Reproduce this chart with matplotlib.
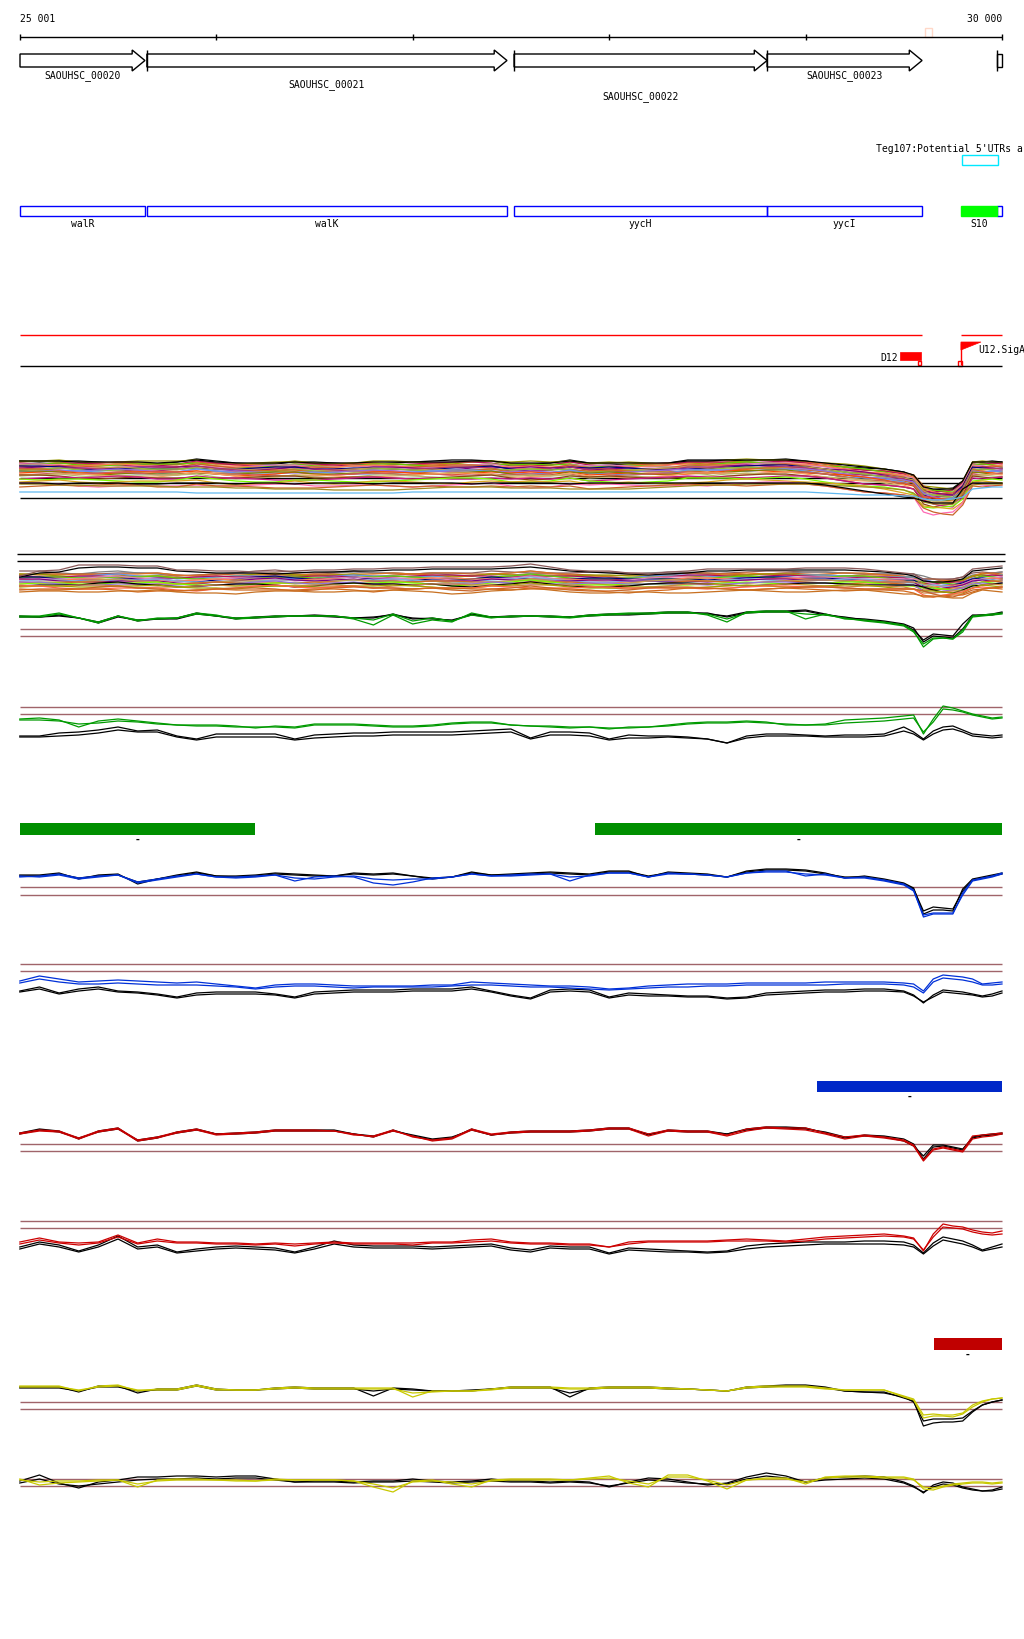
import numpy as np
import matplotlib
matplotlib.use("Agg")
import matplotlib.pyplot as plt
from matplotlib.patches import Polygon, Rectangle

plt.rcParams["font.family"] = ["DejaVu Sans Mono", "DejaVu Sans"]
plt.rcParams["font.size"] = 7

# ---- view / layout ----
W_PX, H_PX = 1024, 1640
VIEW_START, VIEW_END = 25001, 30000
BP_PER_PX = (VIEW_END - VIEW_START) / 982.0
X0 = VIEW_START - 20 * BP_PER_PX
X1 = X0 + W_PX * BP_PER_PX

BROWN = "#a0646a"
GREEN = "#009a00"
BLUE = "#0030d8"
RED = "#cc0000"
YELLOW = "#c8c800"

# ---- annotation data ----
scale_ticks = [25001, 26000, 27000, 28000, 29000, 30000]
scale_labels = ["25 001", "30 000"]

gene_ids = ["SAOUHSC_00020", "SAOUHSC_00021", "SAOUHSC_00022", "SAOUHSC_00023", "SAOUHSC_00024"]
gene_names = ["walR", "walK", "yycH", "yycI", "yycJ"]
gene_start = [24900, 25647, 27516, 28804, 29977]
gene_end = [25637, 27480, 28804, 29593, 30600]
gene_label_row = [76, 85, 97, 76, 76]

srna_name = "S10"
srna_start, srna_end = 29791, 29977
utr_label = "Teg107:Potential 5'UTRs a"
utr_start, utr_end = 29796, 29979

tu_segments = [(25001, 29593), (29791, 30000)]
d12_start, d12_end = 29481, 29588
u12_start, u12_end = 29791, 29893

green_bar_start = [25001, 27928]
green_bar_end = [26197, 30000]
blue_bar_start = [29058]
blue_bar_end = [30000]
red_bar_start = [29654]
red_bar_end = [30000]

# ---- probe positions ----
pos = np.r_[np.arange(25000, 29500, 100), np.arange(29500, 30001, 50)]

# ---- bundle tracks ----
bA_shift = [0,0,0,1,1,1,1,2,1,-1,1,2,2,2,1,2,2,2,1,1,1,1,1,0,0,2,2,2,0,2,2,2,2,2,0,0,-1,-1,-1,-1,0,2,4,6,8,11,14,26,28,28,28,20,1,1,1,1]
bA_offsets = [22,22,23,24,24,25,26,26,27,28,28,29,29,30,31,31,32,33,33,34,35,36,37,38,40,42,45,46]
bA_colors = ["#000000", "#999900", "#a0a000", "#e06030", "#b0105a", "#66cc00", "#e080c0", "#ff7f50",
             "#c86428", "#800080", "#000080", "#c0a050", "#b03070", "#88c040", "#d2691e", "#9370db",
             "#6495ed", "#ff4500", "#808000", "#cd5c5c", "#f4a460", "#bdb76b", "#8b4513", "#c71585",
             "#7cfc00", "#daa520", "#ff69b4", "#c86428"]
bA_refs = [39, 44, 59]
bA_blk_low = [44,44,45,44,44,44,45,45,44,44,44,45,44,44,45,44,44,44,45,44,44,44,44,45,44,44,44,44,45,44,44,44,44,44,44,44,44,44,44,44,44,46,49,52,55,58,59,62,64,64,64,50,44,44,44,44]
bA_lblue = [53,53,53,53,53,53,53,53,53,54,54,54,54,54,54,54,54,54,54,54,53,53,53,53,53,53,53,53,53,53,53,53,53,53,53,53,53,53,53,53,53,54,55,56,56,57,57,60,61,61,60,58,50,49,48,48]
bA_olive = [45,45,46,46,47,47,47,47,48,48,48,49,49,50,50,50,51,51,51,51,50,49,48,48,48,49,49,49,50,50,50,50,49,48,47,46,46,45,45,45,45,46,47,48,49,51,54,63,65,65,65,55,46,45,45,45]

bB_shift = [0,0,1,1,0,0,1,1,2,2,1,1,0,0,1,1,0,0,1,0,0,0,1,1,0,0,-1,0,1,1,2,2,1,1,0,0,0,0,0,0,0,0,0,0,1,2,3,6,7,7,7,6,2,0,0,0]
bB_offsets = [33,34,35,35,36,37,37,38,39,39,40,41,41,42,43,44,44,45,46,47,48,49,50,52]
bB_colors = ["#8b5a5a", "#808080", "#c86428", "#e07020", "#999900", "#6495ed", "#b0105a", "#66cc00",
             "#000080", "#e080c0", "#ff7f50", "#80b0e0", "#800080", "#c0a050", "#d2691e", "#7cfc00",
             "#9370db", "#000000", "#cd853f", "#a0a000", "#ff6347", "#c86428", "#d2691e", "#c87020"]
bB_refs = [15, 22]
bB_top = [37,32,31,26,26,26,27,27,31,31,32,32,33,33,32,31,31,30,30,29,29,28,28,28,28,27,25,28,31,32,32,34,35,33,32,30,30,30,30,30,29,29,29,30,32,34,35,40,40,40,40,38,30,29,28,27]
bB_top2 = [38,34,33,29,28,28,29,29,32,33,34,34,34,35,34,33,33,32,32,31,31,30,30,30,30,29,28,30,32,33,34,35,36,35,34,32,32,31,31,31,31,31,31,32,33,35,37,42,43,43,42,40,32,31,30,29]

wig = [
    [0,1,0,-1,0,1,2,1,0,-1,-1,0,1,1,0,-1,0,1,2,1,0,-1,-2,-1,0,1,1,0,-1,0,1,2,1,0,-1,-1,0,1,0,-1,0,1,2,1,0,0,1,2,1,0,-1,0,1,0,-1,0],
    [1,0,-1,0,1,0,-1,-2,-1,0,1,2,1,0,-1,0,1,0,-1,-1,0,1,2,1,0,-1,-2,-1,0,1,0,-1,0,1,2,1,0,-1,0,1,1,0,-1,-1,0,1,0,-1,-2,-1,0,1,0,-1,0,1],
    [-1,-1,0,1,2,1,0,0,1,2,1,0,-1,-2,-1,0,0,-1,0,1,2,1,0,0,-1,0,2,1,0,-1,-2,-1,0,0,1,2,1,0,-1,-1,0,0,1,2,1,0,-1,2,3,1,0,-1,-1,0,1,0],
    [2,1,0,0,-1,-2,-1,0,1,0,0,-1,0,1,2,1,0,-1,-1,0,1,0,1,2,1,0,-1,0,1,2,1,0,-1,-2,-1,0,1,2,1,0,-1,-1,0,1,0,-1,-2,-3,-1,1,2,0,0,1,0,-1],
]

# ---- signal tracks (green) ----
g3_blk1 = [22,23,22,24,28,22,27,25,24,19,22,25,23,22,22,21,22,24,24,20,25,24,27,20,23,22,22,23,23,21,20,20,19,18,18,20,22,18,17,17,16,20,24,25,27,30,34,48,42,43,44,35,22,21,20,18]
g3_blk2 = [23,23,21,24,29,23,26,25,25,20,22,24,24,23,22,22,23,24,23,21,24,25,26,21,23,23,22,22,23,22,21,21,20,19,19,19,23,19,18,18,17,21,23,26,28,31,36,46,40,41,42,30,21,21,21,19]
g3_col1 = [22,22,19,24,29,22,27,24,24,19,21,25,24,22,22,22,22,25,31,21,30,26,28,19,23,23,22,22,23,21,20,19,19,18,18,21,28,18,17,17,25,20,25,26,28,31,37,53,45,44,45,36,22,21,20,19]
g3_col2 = [23,23,20,24,28,22,26,25,24,20,22,24,23,23,22,22,22,24,26,20,27,24,27,21,24,22,22,23,24,22,21,20,20,19,19,20,25,19,18,18,20,21,24,27,29,32,38,50,44,44,45,38,23,22,21,20]

g4_blk1 = [42,42,39,38,36,33,37,36,42,45,40,40,40,40,45,41,40,39,39,38,38,38,38,37,36,35,44,38,38,39,45,41,42,42,43,45,49,42,40,40,41,42,41,41,40,33,38,45,37,33,32,36,40,41,42,41]
g4_blk2 = [43,43,42,41,39,36,38,38,43,46,43,43,43,43,46,44,43,42,42,41,41,41,41,40,39,38,45,41,41,42,46,44,44,43,44,45,49,44,42,42,42,43,43,43,42,37,40,46,40,36,35,38,42,43,44,43]
g4_col1 = [25,24,26,33,27,25,27,29,31,31,31,32,34,32,33,30,30,30,31,32,32,31,29,28,28,31,32,32,33,33,35,33,33,31,29,28,28,27,28,31,31,30,26,25,24,22,21,40,25,12,14,17,20,22,24,23]
g4_col2 = [26,26,27,30,29,27,28,30,31,32,32,33,33,33,34,31,31,31,32,33,33,32,30,29,29,31,32,33,34,33,34,34,33,32,30,29,29,28,29,30,31,31,29,28,27,25,24,38,28,15,16,18,21,23,25,24]

# ---- signal tracks (blue) ----
b5_blk1 = [26,26,24,30,26,25,35,30,26,23,27,27,26,24,25,26,27,24,25,24,27,30,28,23,26,25,24,23,24,25,22,22,28,23,24,25,28,22,20,20,21,24,29,27,30,34,39,65,61,61,62,40,30,28,26,24]
b5_blk2 = [27,27,25,29,27,26,33,30,27,24,27,28,27,25,26,27,27,25,26,25,27,29,28,24,26,26,25,24,25,26,23,23,27,24,25,26,28,23,21,21,22,25,28,28,31,35,40,62,58,59,60,42,31,29,27,25]
b5_col1 = [28,27,25,29,27,26,33,30,27,25,28,28,27,26,32,28,27,28,34,36,33,29,28,25,27,26,25,25,32,26,24,24,28,24,25,26,28,24,22,22,27,25,29,28,31,35,41,68,65,65,65,44,31,29,27,24]
b5_col2 = [27,28,26,30,28,26,34,31,28,25,28,29,28,26,29,30,28,27,30,31,30,30,28,25,27,27,26,25,28,27,24,24,28,25,25,26,28,24,23,23,25,26,29,29,32,36,42,66,64,64,64,46,32,30,28,25]

b6_blk1 = [37,33,39,35,33,37,38,40,43,39,38,38,38,40,43,38,37,36,36,36,35,35,35,33,37,41,44,36,35,36,43,39,40,41,42,42,44,43,39,38,37,36,36,35,35,37,41,49,41,36,37,38,40,42,40,37]
b6_blk2 = [38,35,40,37,35,38,39,41,44,41,40,40,40,41,44,40,39,38,38,38,37,37,37,35,38,42,45,38,37,38,44,41,42,42,43,43,45,44,41,40,39,38,38,37,37,38,42,48,43,38,39,40,41,43,42,39]
b6_col1 = [27,22,25,28,27,26,27,28,29,28,30,32,34,31,30,30,31,32,32,32,32,31,31,28,29,30,31,32,32,33,35,34,32,31,30,30,30,29,29,29,29,28,28,28,28,29,30,37,25,21,22,23,25,30,29,28]
b6_col2 = [29,25,28,30,30,29,30,31,31,31,32,33,35,33,32,32,33,34,33,33,33,33,32,31,31,32,33,33,34,35,36,35,34,33,33,32,32,31,31,31,31,31,30,30,30,31,33,39,28,24,25,26,28,31,31,30]

# ---- signal tracks (red) ----
r7_blk1 = [24,20,22,30,22,19,32,29,23,20,25,24,23,21,21,21,21,25,28,21,27,31,29,20,26,23,22,22,22,21,19,19,26,21,22,22,25,20,18,18,19,24,29,26,27,30,35,50,38,37,39,41,28,26,25,24]
r7_blk2 = [25,21,23,29,23,20,31,28,24,21,25,25,24,22,22,22,22,25,27,22,26,30,28,21,26,24,23,23,23,22,20,20,25,22,23,23,25,21,19,19,20,23,28,27,28,32,37,47,36,36,38,40,29,27,26,25]
r7_col1 = [24,21,22,29,22,19,31,28,23,20,25,24,23,21,21,21,22,26,27,21,28,31,29,20,25,23,22,22,22,21,19,19,25,21,22,22,26,20,18,19,19,24,28,26,28,31,36,51,40,38,40,42,27,26,25,24]
r7_col2 = [25,22,23,30,23,20,32,29,24,21,26,25,24,22,22,22,22,25,28,22,27,32,30,21,26,24,23,23,23,22,20,20,27,22,23,23,27,22,19,20,21,25,30,27,29,32,37,52,41,39,41,43,30,28,27,25]

r8_blk1 = [38,33,36,42,36,27,38,36,43,40,38,37,38,39,43,38,32,36,37,37,37,38,37,36,35,39,41,37,38,38,44,39,40,41,42,43,42,37,35,34,33,33,33,32,32,33,36,44,34,28,30,32,36,41,38,35]
r8_blk2 = [40,35,38,43,38,30,40,38,44,42,40,39,40,41,44,40,35,38,39,39,39,40,39,38,37,41,43,39,40,40,45,41,42,43,43,44,43,40,38,37,36,35,35,35,35,36,38,45,37,31,33,35,38,42,40,38]
r8_col1 = [33,29,33,34,33,26,34,30,33,33,34,34,35,34,35,34,33,34,34,34,34,33,33,31,30,33,34,34,35,35,38,33,32,32,32,32,31,30,31,32,30,28,27,26,25,27,29,42,25,15,17,18,21,23,24,22]
r8_col2 = [35,31,34,36,34,28,35,32,34,34,35,35,36,35,37,35,34,35,35,35,36,34,34,33,32,34,35,35,36,36,38,35,33,33,33,33,32,32,32,33,32,30,29,28,27,28,30,41,28,18,19,20,23,25,26,25]

# ---- signal tracks (yellow) ----
y9_blk1 = [18,18,18,23,17,17,24,20,20,16,20,21,21,19,18,19,19,19,27,19,20,22,22,22,20,18,18,18,28,19,18,18,18,19,20,21,22,18,17,16,16,18,22,23,23,29,32,57,54,53,53,52,43,36,33,31]
y9_blk2 = [19,19,19,22,18,18,22,21,21,17,21,21,21,20,19,20,20,20,22,20,21,22,22,21,20,19,19,19,24,20,19,19,19,20,20,21,22,19,18,17,17,19,22,23,24,28,33,52,50,50,50,49,42,36,33,31]
y9_col1 = [17,17,17,22,17,16,22,20,20,16,20,21,21,19,18,19,19,19,19,19,28,22,22,22,20,18,18,18,19,19,18,18,18,19,20,21,22,18,17,17,17,19,21,21,21,28,31,49,47,47,48,45,38,33,30,29]
y9_col2 = [18,18,18,21,18,17,21,21,21,17,21,21,21,20,19,20,20,20,20,20,24,23,22,22,21,19,19,19,20,20,19,19,19,20,20,21,22,19,18,18,18,20,21,21,21,27,30,46,45,46,46,44,36,32,30,29]

y10_blk1 = [22,16,24,29,23,21,18,18,17,17,18,17,17,20,23,22,22,23,22,22,20,22,23,22,20,22,22,23,22,23,28,23,19,20,23,26,24,18,14,17,23,19,18,17,18,23,27,34,26,23,24,28,30,32,31,28]
y10_blk2 = [24,20,25,27,25,23,21,20,20,19,20,19,19,21,23,23,23,24,23,23,22,23,24,23,22,23,23,24,23,24,27,24,21,22,24,25,25,20,17,19,23,21,20,19,20,24,28,33,28,25,26,29,31,32,32,30]
y10_col1 = [20,26,24,23,22,21,28,21,20,20,21,21,22,20,21,21,21,22,28,33,22,21,25,28,21,20,20,20,21,19,17,24,28,16,16,22,30,21,19,19,25,18,17,17,18,18,20,30,31,28,26,25,24,24,25,24]
y10_col2 = [21,23,22,22,21,21,25,22,21,21,21,22,22,21,21,21,21,22,25,29,23,22,23,25,22,21,21,21,21,20,19,22,25,18,18,21,26,21,20,20,23,19,18,18,19,19,21,28,29,27,25,24,23,23,24,23]


fig = plt.figure(figsize=(W_PX / 100, H_PX / 100), dpi=100)


def track(top, height):
    ax = fig.add_axes([0, 1 - (top + height) / H_PX, 1, height / H_PX])
    ax.set_xlim(X0, X1)
    ax.set_ylim(height, 0)
    ax.axis("off")
    return ax


ann = track(0, H_PX)

# scale bar
ann.hlines(38, VIEW_START, VIEW_END, color="k", lw=1)
ann.vlines(scale_ticks, 35, 41, color="k", lw=1)
ann.text(VIEW_START, 19, scale_labels[0], ha="left", va="center")
ann.text(VIEW_END, 19, scale_labels[1], ha="right", va="center")
ann.add_patch(Rectangle((29608, 29), 36, 9, fill=False, ec="#ffd8c8", lw=1))

# genes as arrows
head = 65
for gid, s0, e0, ly in zip(gene_ids, gene_start, gene_end, gene_label_row):
    s, e = max(s0, VIEW_START), min(e0, VIEW_END)
    if e0 <= VIEW_END:
        pts = [(s, 55), (e - head, 55), (e - head, 51), (e, 61.5), (e - head, 72), (e - head, 68), (s, 68)]
    else:
        pts = [(s, 55), (e, 55), (e, 68), (s, 68)]
    ann.add_patch(Polygon(pts, closed=True, fill=False, ec="k", lw=1))
    if s0 >= VIEW_START:
        ann.vlines(s, 51, 72, color="k", lw=1)
    if e - s > 200:
        ann.text((s + e) / 2, ly, gid, ha="center", va="center")

# UTR annotation
ann.text(29358, 149, utr_label, ha="left", va="center")
ann.add_patch(Rectangle((utr_start, 156), utr_end - utr_start, 10, fill=False, ec="#00e8ff", lw=1))

# CDS boxes
for name, s0, e0 in zip(gene_names, gene_start, gene_end):
    s, e = max(s0, VIEW_START), min(e0, VIEW_END)
    ann.add_patch(Rectangle((s, 207), e - s, 10, fill=False, ec="#0000ff", lw=1))
    if e - s > 200:
        ann.text((s + e) / 2, 224, name, ha="center", va="center")
ann.add_patch(Rectangle((srna_start, 207), srna_end - srna_start, 10, fc="#00ff00", ec="#00ff00", lw=1))
ann.text((srna_start + srna_end) / 2, 224, srna_name, ha="center", va="center")

# transcription units / promoters
for s, e in tu_segments:
    ann.hlines(336, s, e, color="#ff0000", lw=1)
ann.hlines(367, VIEW_START, VIEW_END, color="k", lw=1)
ann.add_patch(Rectangle((d12_start, 353), d12_end - d12_start, 8, fc="#ff0000", ec="#ff0000", lw=0.5))
ann.add_patch(Rectangle((d12_end - 16, 362), 16, 4, fill=False, ec="#ff0000", lw=1))
ann.text(d12_start - 12, 358, "D12", ha="right", va="center")
ann.vlines(u12_start, 344, 366, color="#ff0000", lw=1)
ann.add_patch(Polygon([(u12_start, 343), (u12_end, 343), (u12_start, 351)], closed=True,
                      fc="#ff0000", ec="#ff0000", lw=0.5))
ann.add_patch(Rectangle((u12_start - 16, 362), 20, 5, fill=False, ec="#ff0000", lw=1))
ann.text(u12_start + 88, 350, "U12.SigA", ha="left", va="center")

# enrichment bars
ann.barh(830, np.subtract(green_bar_end, green_bar_start), left=green_bar_start, height=12, color="#008f00")
ann.barh(1087.5, np.subtract(blue_bar_end, blue_bar_start), left=blue_bar_start, height=11, color="#0028c8")
ann.barh(1345, np.subtract(red_bar_end, red_bar_start), left=red_bar_start, height=12, color="#c00000")
for starts, ends, y in [(green_bar_start, green_bar_end, 840), (blue_bar_start, blue_bar_end, 1097),
                        (red_bar_start, red_bar_end, 1355)]:
    for s, e in zip(starts, ends):
        ann.text((s + e) / 2, y, "-", ha="center", va="center", fontsize=7, fontweight="bold")

# multi-sample bundles
axA = track(440, 80)
axA.hlines(bA_refs, VIEW_START, VIEW_END, color="k", lw=1)
for i, (off, col) in enumerate(zip(bA_offsets, bA_colors)):
    axA.plot(pos, np.add(np.add(bA_shift, wig[i % 4]), off), color=col, lw=0.9)
axA.plot(pos, bA_olive, color="#a08a20", lw=0.9)
axA.plot(pos, bA_blk_low, color="k", lw=0.9)
axA.plot(pos, bA_lblue, color="#60b8f0", lw=0.9)
axA.plot(pos, np.add(bA_shift, 22), color="k", lw=0.9)

axB = track(540, 70)
axB.hlines(bB_refs, VIEW_START - 15, VIEW_END + 15, color="k", lw=1)
for i, (off, col) in enumerate(zip(bB_offsets, bB_colors)):
    axB.plot(pos, np.add(np.add(bB_shift, wig[(i + 2) % 4]), off), color=col, lw=0.9)
axB.plot(pos, bB_top2, color="k", lw=0.9)
axB.plot(pos, bB_top, color="#8b5a5a", lw=0.9)

# paired signal panels
panels = [
    (595, 62, [35, 42], [g3_blk1, g3_blk2], [g3_col1, g3_col2], GREEN),
    (695, 55, [13, 20], [g4_blk1, g4_blk2], [g4_col1, g4_col2], GREEN),
    (850, 75, [38, 46], [b5_blk1, b5_blk2], [b5_col1, b5_col2], BLUE),
    (955, 55, [10, 17], [b6_blk1, b6_blk2], [b6_col1, b6_col2], BLUE),
    (1110, 60, [35, 42], [r7_blk1, r7_blk2], [r7_col1, r7_col2], RED),
    (1210, 50, [12, 19], [r8_blk1, r8_blk2], [r8_col1, r8_col2], RED),
    (1370, 65, [33, 40], [y9_blk1, y9_blk2], [y9_col1, y9_col2], YELLOW),
    (1460, 45, [20, 27], [y10_blk1, y10_blk2], [y10_col1, y10_col2], YELLOW),
]
for top, height, thr, blacks, cols, color in panels:
    ax = track(top, height)
    ax.hlines(thr, VIEW_START, VIEW_END, color=BROWN, lw=1)
    for vals in blacks:
        ax.plot(pos, vals, color="k", lw=0.9)
    for vals in cols:
        ax.plot(pos, vals, color=color, lw=0.9)

fig.savefig("out.png", dpi=100)
